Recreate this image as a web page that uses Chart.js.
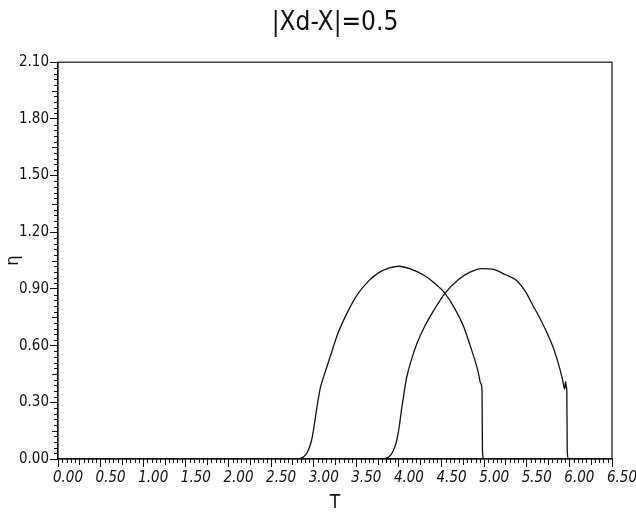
<!DOCTYPE html>
<html>
<head>
<meta charset="utf-8">
<script src="https://cdn.jsdelivr.net/npm/chart.js@4.4.1/dist/chart.umd.min.js"></script>
<style>
html,body{margin:0;padding:0;background:#fff;}
#wrap{width:636px;height:514px;}
</style>
</head>
<body>
<div id="wrap"><canvas id="c" width="636" height="514"></canvas></div>
<script>
// Data
const T1   = [0, 2.80, 2.88, 2.93, 2.97, 3.00, 3.04, 3.08, 3.12, 3.20, 3.28, 3.40, 3.52, 3.64, 3.76, 3.88, 4.00, 4.14, 4.29, 4.42, 4.54, 4.65, 4.76, 4.84, 4.90, 4.93, 4.96, 4.975, 4.98, 4.995, 5.02, 6.50];
const ETA1 = [0, 0.00, 0.01, 0.04, 0.09, 0.16, 0.28, 0.38, 0.44, 0.55, 0.66, 0.78, 0.875, 0.94, 0.985, 1.01, 1.02, 1.005, 0.974, 0.93, 0.877, 0.80, 0.70, 0.594, 0.51, 0.46, 0.40, 0.36, 0.05, 0.00, 0.00, 0.00];
const T2   = [0, 3.80, 3.88, 3.93, 3.97, 4.00, 4.03, 4.06, 4.09, 4.15, 4.21, 4.30, 4.40, 4.54, 4.70, 4.84, 4.97, 5.10, 5.25, 5.38, 5.48, 5.58, 5.66, 5.74, 5.81, 5.87, 5.92, 5.945, 5.955, 5.965, 5.97, 5.975, 5.99, 6.50];
const ETA2 = [0, 0.00, 0.01, 0.04, 0.09, 0.16, 0.26, 0.35, 0.43, 0.53, 0.61, 0.70, 0.78, 0.877, 0.95, 0.99, 1.008, 1.005, 0.975, 0.945, 0.89, 0.806, 0.74, 0.665, 0.59, 0.506, 0.42, 0.37, 0.41, 0.38, 0.36, 0.04, 0.00, 0.00];
const X_TICK_STEP = 0.5;
const Y_TICK_STEP = 0.3;
const TITLE = '|Xd-X|=0.5';
const X_LABEL = 'T';
const Y_LABEL = 'η';

const FONT = "'Liberation Sans Narrow', 'DejaVu Sans Condensed', 'Arial Narrow', sans-serif";

const toPts = (xs, ys) => xs.map((x, i) => ({x: x, y: ys[i]}));

const frameAndMinorTicks = {
  id: 'frameAndMinorTicks',
  afterDraw(chart) {
    const ctx = chart.ctx, a = chart.chartArea;
    const xs = chart.scales.x, ys = chart.scales.y;
    ctx.save();
    ctx.strokeStyle = '#111';
    ctx.lineWidth = 1.2;
    ctx.strokeRect(a.left, a.top, a.right - a.left, a.bottom - a.top);
    ctx.lineWidth = 1;
    ctx.beginPath();
    for (let i = 0; i <= 130; i++) {
      if (i % 10 === 0) continue;
      const px = Math.round(xs.getPixelForValue(i * 0.05)) + 0.5;
      const len = (i % 5 === 0) ? 6 : 4;
      ctx.moveTo(px, a.bottom);
      ctx.lineTo(px, a.bottom + len);
    }
    for (let i = 0; i <= 70; i++) {
      if (i % 10 === 0) continue;
      const py = Math.round(ys.getPixelForValue(i * 0.03)) + 0.5;
      const len = (i % 5 === 0) ? 6 : 4;
      ctx.moveTo(a.left, py);
      ctx.lineTo(a.left - len, py);
    }
    ctx.stroke();
    ctx.restore();
  }
};

new Chart(document.getElementById('c'), {
  type: 'scatter',
  data: {
    datasets: [
      {data: toPts(T1, ETA1), showLine: true, borderColor: '#111', borderWidth: 1.3, pointRadius: 0, cubicInterpolationMode: 'monotone', fill: false},
      {data: toPts(T2, ETA2), showLine: true, borderColor: '#111', borderWidth: 1.3, pointRadius: 0, cubicInterpolationMode: 'monotone', fill: false}
    ]
  },
  options: {
    responsive: false,
    animation: false,
    layout: {padding: {left: 0, right: 24, top: 0, bottom: 0}},
    plugins: {
      legend: {display: false},
      tooltip: {enabled: false},
      title: {
        display: true,
        text: TITLE,
        fullSize: false,
        color: '#111',
        font: {family: FONT, size: 26, weight: 'normal'},
        padding: {top: 8, bottom: 23}
      }
    },
    scales: {
      x: {
        type: 'linear',
        min: 0, max: 6.5,
        border: {display: true, color: '#111', width: 1.2},
        grid: {display: true, drawOnChartArea: false, tickLength: 8, color: '#111', tickColor: '#111'},
        ticks: {
          stepSize: X_TICK_STEP,
          color: '#111',
          labelOffset: 10,
          padding: 2,
          maxRotation: 0,
          autoSkip: false,
          font: {family: FONT, size: 15, style: 'italic'},
          callback: v => Number(v).toFixed(2)
        },
        title: {display: true, text: X_LABEL, color: '#111', font: {family: FONT, size: 19}, padding: {top: 0, bottom: 0}},
        afterFit: s => { s.height = 55; }
      },
      y: {
        type: 'linear',
        min: 0, max: 2.1,
        border: {display: true, color: '#111', width: 1.2},
        grid: {display: true, drawOnChartArea: false, tickLength: 8, color: '#111', tickColor: '#111'},
        ticks: {
          stepSize: Y_TICK_STEP,
          color: '#111',
          padding: 1,
          autoSkip: false,
          font: {family: FONT, size: 15},
          callback: v => Number(v).toFixed(2)
        },
        title: {display: true, text: Y_LABEL, color: '#111', font: {family: FONT, size: 18}, padding: {top: 3, bottom: 0}},
        afterFit: s => { s.width = 58; }
      }
    }
  },
  plugins: [frameAndMinorTicks]
});
</script>
</body>
</html>
